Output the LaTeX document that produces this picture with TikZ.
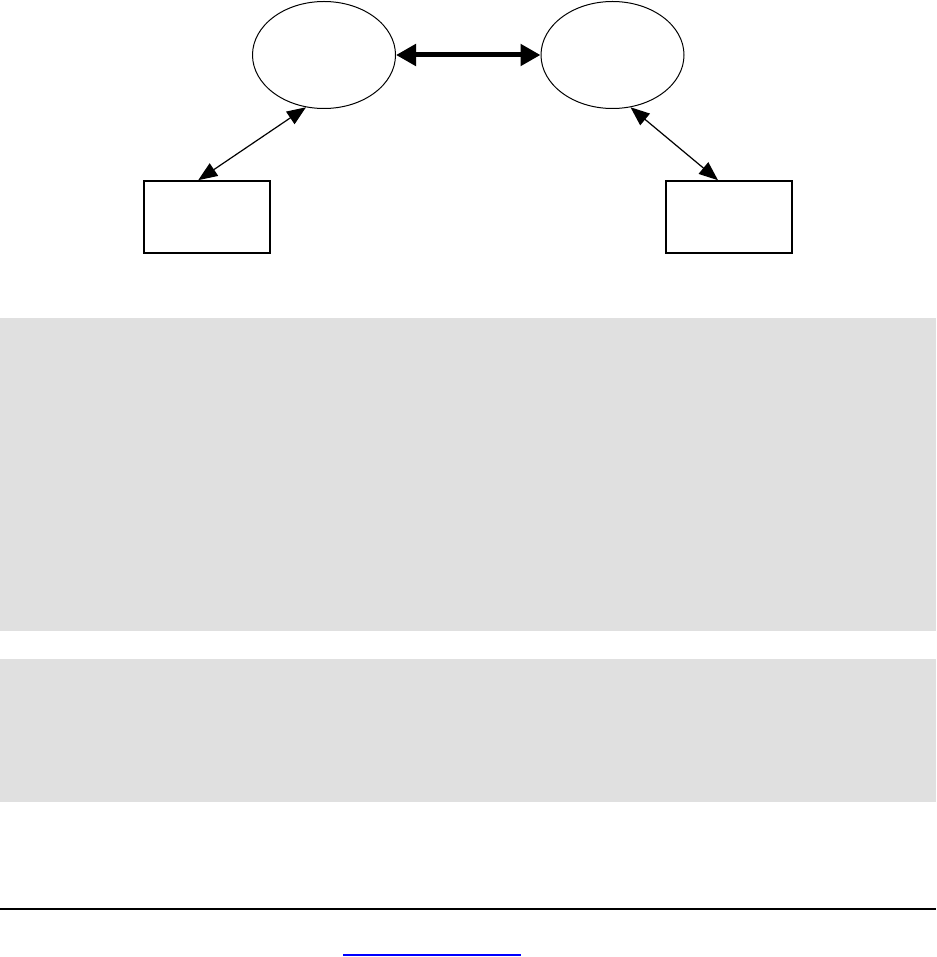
\documentclass[tikz,border=0pt]{standalone}
\usetikzlibrary{shapes.geometric,arrows.meta}
\definecolor{panelgray}{HTML}{E0E0E0}
\definecolor{linkblue}{RGB}{0,0,255}
\tikzset{
  oval/.style={draw=black, line width=1pt, ellipse, minimum width=143pt, minimum height=107pt, inner sep=0pt},
  box/.style={draw=black, line width=1.6pt, rectangle, minimum width=126pt, minimum height=72pt, inner sep=0pt},
  panel/.style={fill=panelgray, draw=none, rectangle, inner sep=0pt, anchor=north west},
  thinlink/.style={line width=1.2pt, {Triangle[length=19pt,width=15pt]}-{Triangle[length=19pt,width=15pt]}},
  thicklink/.style={line width=5pt, {Triangle[length=20pt,width=21pt]}-{Triangle[length=20pt,width=21pt]}}
}
\begin{document}
\begin{tikzpicture}[x=1pt,y=-1pt]
  \useasboundingbox (0,0) rectangle (936,957);
  \fill[white] (0,0) rectangle (936,957);
  % panels
  \node[panel, minimum width=936pt, minimum height=313pt] (p1) at (0,318) {};
  \node[panel, minimum width=936pt, minimum height=143pt] (p2) at (0,659) {};
  % diagram
  \node[oval] (e1) at (324,55) {};
  \node[oval] (e2) at (612.5,55) {};
  \node[box] (r1) at (206.7,217) {};
  \node[box] (r2) at (729,217) {};
  \draw[thicklink] (e1.east) -- (e2.west);
  \draw[thinlink] ([xshift=-8.5pt]r1.north) -- (e1.-109);
  \draw[thinlink] (e2.-71) -- ([xshift=-11pt]r2.north);
  % footer rule and link underline
  \draw[line width=2pt] (0,908.7) -- (936,908.7);
  \fill[linkblue] (343,954.3) rectangle (521,956.3);
\end{tikzpicture}
\end{document}
